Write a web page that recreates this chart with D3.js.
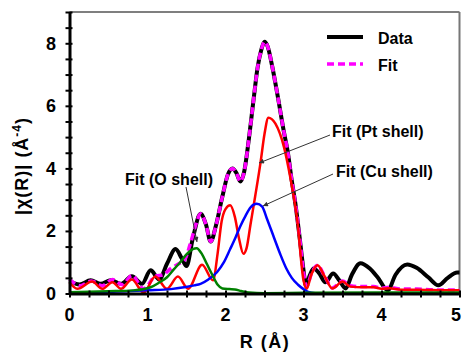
<!DOCTYPE html>
<html>
<head>
<meta charset="utf-8">
<script src="https://cdn.jsdelivr.net/npm/d3@7"></script>
<style>
  body { margin: 0; background: #fff; }
  svg { display: block; font-family: "Liberation Sans", Arial, sans-serif; font-weight: bold; }
</style>
</head>
<body>
<svg id="chart" width="462" height="352"></svg>
<script>
// |chi(R)| curves, [R, value] pairs
const dataCurve = [
    [0.00, 0.40], [0.13, 0.29], [0.27, 0.42], [0.40, 0.31], [0.53, 0.42], [0.66, 0.31],
    [0.80, 0.55], [0.93, 0.31], [1.04, 0.74], [1.15, 0.45], [1.25, 0.95], [1.36, 1.42],
    [1.44, 1.12], [1.50, 0.88], [1.58, 1.75], [1.68, 2.55], [1.75, 2.2], [1.81, 1.66],
    [1.88, 2.2], [1.96, 3.1], [2.03, 3.8], [2.09, 4.0], [2.14, 3.85], [2.19, 3.58],
    [2.24, 3.9], [2.30, 4.95], [2.36, 6.2], [2.41, 7.2], [2.46, 7.8], [2.50, 8.05],
    [2.54, 7.9], [2.60, 7.25], [2.67, 6.3], [2.75, 5.15], [2.80, 4.5], [2.85, 3.6],
    [2.90, 2.8], [2.95, 1.8], [3.00, 0.75], [3.03, 0.26], [3.08, 0.58], [3.13, 0.8],
    [3.20, 0.65], [3.28, 0.36], [3.38, 0.64], [3.46, 0.42], [3.54, 0.16], [3.62, 0.6],
    [3.73, 0.97], [3.85, 0.8], [3.95, 0.52], [4.08, 0.1], [4.18, 0.6], [4.33, 0.93],
    [4.45, 0.82], [4.60, 0.52], [4.73, 0.26], [4.85, 0.5], [4.97, 0.67], [5.00, 0.67]
];

const fitCurve = [
    [0.00, 0.45], [0.14, 0.25], [0.28, 0.40], [0.42, 0.25], [0.55, 0.45], [0.68, 0.28],
    [0.80, 0.58], [0.95, 0.15], [1.10, 0.55], [1.20, 0.6], [1.30, 0.8], [1.40, 0.95],
    [1.47, 1.05], [1.55, 1.6], [1.62, 2.2], [1.68, 2.55], [1.75, 2.2], [1.81, 1.66],
    [1.88, 2.2], [1.96, 3.1], [2.03, 3.8], [2.09, 4.0], [2.14, 3.85], [2.19, 3.58],
    [2.24, 3.9], [2.30, 4.95], [2.36, 6.2], [2.41, 7.2], [2.46, 7.8], [2.50, 8.05],
    [2.54, 7.9], [2.60, 7.25], [2.67, 6.3], [2.75, 5.15], [2.80, 4.5], [2.85, 3.6],
    [2.90, 2.8], [2.95, 1.8], [3.00, 0.7], [3.04, 0.22], [3.10, 0.62], [3.18, 0.9],
    [3.27, 0.56], [3.37, 0.18], [3.50, 0.4], [3.60, 0.25], [3.75, 0.22], [3.90, 0.22],
    [4.00, 0.17], [4.10, 0.2], [4.25, 0.14], [4.45, 0.14], [4.65, 0.12], [4.85, 0.11],
    [5.00, 0.11]
];

const ptShell = [
    [0.00, 0.35], [0.10, 0.15], [0.29, 0.38], [0.42, 0.15], [0.55, 0.36], [0.66, 0.15],
    [0.80, 0.45], [0.95, 0.03], [1.10, 0.54], [1.25, 0.15], [1.39, 0.54], [1.52, 0.15],
    [1.70, 0.92], [1.84, 0.42], [1.90, 1.3], [1.95, 2.3], [2.00, 2.7], [2.06, 2.82],
    [2.12, 2.45], [2.17, 1.8], [2.23, 1.27], [2.27, 1.45], [2.32, 2.2], [2.38, 3.1],
    [2.45, 4.2], [2.50, 5.1], [2.55, 5.62], [2.64, 5.43], [2.75, 4.68], [2.83, 3.72],
    [2.92, 2.34], [3.00, 0.42], [3.04, 0.15], [3.10, 0.6], [3.18, 0.9], [3.27, 0.55],
    [3.37, 0.16], [3.50, 0.38], [3.60, 0.22], [3.75, 0.2], [3.90, 0.2], [4.00, 0.15],
    [4.10, 0.17], [4.25, 0.12], [4.45, 0.12], [4.65, 0.11], [4.85, 0.1], [5.00, 0.1]
];

const cuShell = [
    [0.00, 0.03], [0.50, 0.05], [1.00, 0.1], [1.30, 0.14], [1.47, 0.2], [1.60, 0.26],
    [1.68, 0.31], [1.78, 0.45], [1.89, 0.68], [1.98, 1.0], [2.06, 1.42], [2.13, 1.8],
    [2.19, 2.15], [2.26, 2.5], [2.32, 2.75], [2.40, 2.87], [2.47, 2.78], [2.53, 2.4],
    [2.62, 1.8], [2.70, 1.27], [2.78, 0.8], [2.85, 0.5], [2.93, 0.28], [3.00, 0.14],
    [3.06, 0.05], [3.15, 0.01], [4.00, 0.0], [5.00, 0.0]
];

const oShell = [
    [0.00, 0.04], [0.50, 0.07], [0.82, 0.1], [1.04, 0.2], [1.15, 0.35], [1.25, 0.52],
    [1.34, 0.78], [1.42, 1.0], [1.50, 1.25], [1.58, 1.42], [1.63, 1.45], [1.70, 1.25],
    [1.76, 0.95], [1.83, 0.6], [1.90, 0.28], [1.96, 0.16], [2.05, 0.14], [2.12, 0.13],
    [2.20, 0.08], [2.30, 0.03], [2.50, 0.01], [3.00, 0.02], [4.00, 0.03], [5.00, 0.03]
];

const xTicks = [0, 1, 2, 3, 4, 5];
const yTicks = [0, 2, 4, 6, 8];

const svg = d3.select('#chart');
const x = d3.scaleLinear().domain([0, 5]).range([69.5, 459.5]);
const y = d3.scaleLinear().domain([0, 9]).range([293.5, 12]);

const line = d3.line()
    .x(d => x(d[0]))
    .y(d => y(d[1]))
    .curve(d3.curveMonotoneX);

// frame (top / right)
svg.append('line')
    .attr('x1', x(0)).attr('x2', x(5))
    .attr('y1', y(9)).attr('y2', y(9))
    .attr('stroke', '#555').attr('stroke-width', 1.5);
svg.append('line')
    .attr('x1', x(5)).attr('x2', x(5))
    .attr('y1', y(9)).attr('y2', y(0))
    .attr('stroke', '#777').attr('stroke-width', 2);

// curves
const plot = svg.append('g');
plot.append('path').datum(dataCurve)
    .attr('d', line).attr('fill', 'none')
    .attr('stroke', '#000').attr('stroke-width', 4).attr('stroke-linejoin', 'round');
plot.append('path').datum(fitCurve)
    .attr('d', line).attr('fill', 'none')
    .attr('stroke', '#ff00ff').attr('stroke-width', 3.5).attr('stroke-dasharray', '7,4');
plot.append('path').datum(ptShell)
    .attr('d', line).attr('fill', 'none')
    .attr('stroke', '#ff0000').attr('stroke-width', 2.5);
plot.append('path').datum(cuShell)
    .attr('d', line).attr('fill', 'none')
    .attr('stroke', '#0000ff').attr('stroke-width', 2.5);
plot.append('path').datum(oShell)
    .attr('d', line).attr('fill', 'none')
    .attr('stroke', '#008000').attr('stroke-width', 2.5);

// axes
const xAxis = d3.axisBottom(x)
    .tickValues(d3.range(0, 5.001, 0.25))
    .tickSize(0)
    .tickFormat('');
const gx = svg.append('g').attr('transform', `translate(0,${y(0)})`).call(xAxis);
gx.select('.domain').attr('stroke', '#000').attr('stroke-width', 3);
gx.selectAll('.tick line').attr('y1', -3).attr('y2', 4).attr('stroke', '#000').attr('stroke-width', 2);

const yAxis = d3.axisLeft(y)
    .tickValues(d3.range(0, 9.001, 0.5))
    .tickSize(0)
    .tickFormat('');
const gy = svg.append('g').attr('transform', `translate(${x(0)},0)`).call(yAxis);
gy.select('.domain').attr('stroke', '#000').attr('stroke-width', 3);
gy.selectAll('.tick line').attr('x1', -4).attr('x2', 3).attr('stroke', '#000').attr('stroke-width', 2);

// last x label sits against the right edge, nudge it in
svg.append('g').selectAll('text')
    .data(xTicks).enter().append('text')
    .attr('x', d => x(d) - (d === 5 ? 3.5 : 0)).attr('y', 321)
    .attr('text-anchor', 'middle').attr('font-size', 18)
    .text(d => d);

svg.append('g').selectAll('text')
    .data(yTicks).enter().append('text')
    .attr('x', 56).attr('y', d => y(d) + 6.5)
    .attr('text-anchor', 'end').attr('font-size', 18)
    .text(d => d);

// axis titles
svg.append('text')
    .attr('x', 265).attr('y', 348)
    .attr('text-anchor', 'middle').attr('font-size', 18)
    .attr('letter-spacing', 1.5)
    .text('R (Å)');

const yt = svg.append('text')
    .attr('transform', 'translate(28,166) rotate(-90)')
    .attr('text-anchor', 'middle').attr('font-size', 18)
    .attr('letter-spacing', 1);
yt.append('tspan').text('|χ(R)| (Å');
yt.append('tspan').attr('dy', -7).attr('font-size', 12).text('-4');
yt.append('tspan').attr('dy', 7).text(')');

// legend
const legend = [
    { label: 'Data', color: '#000', width: 4, dash: null, y: 37 },
    { label: 'Fit', color: '#ff00ff', width: 3.5, dash: '7,4', y: 64 }
];
const lg = svg.append('g').selectAll('g').data(legend).enter().append('g');
lg.append('line')
    .attr('x1', 327).attr('x2', 363)
    .attr('y1', d => d.y).attr('y2', d => d.y)
    .attr('stroke', d => d.color).attr('stroke-width', d => d.width)
    .attr('stroke-dasharray', d => d.dash);
lg.append('text')
    .attr('x', 378).attr('y', d => d.y + 7)
    .attr('font-size', 16)
    .text(d => d.label);

// annotations
svg.append('defs').append('marker')
    .attr('id', 'arrow')
    .attr('viewBox', '0 0 10 10')
    .attr('refX', 10).attr('refY', 5)
    .attr('markerWidth', 7).attr('markerHeight', 5)
    .attr('markerUnits', 'userSpaceOnUse')
    .attr('orient', 'auto')
    .append('path').attr('d', 'M0,0L10,5L0,10z').attr('fill', '#333');

const notes = [
    { text: 'Fit (Pt shell)', tx: 332, ty: 137, x1: 330, y1: 135, x2: 259, y2: 163 },
    { text: 'Fit (Cu shell)', tx: 336, ty: 177, x1: 333, y1: 174, x2: 263, y2: 206 },
    { text: 'Fit (O shell)', tx: 125, ty: 185, x1: 186, y1: 187, x2: 197, y2: 242 }
];
const ng = svg.append('g').selectAll('g').data(notes).enter().append('g');
ng.append('line')
    .attr('x1', d => d.x1).attr('y1', d => d.y1)
    .attr('x2', d => d.x2).attr('y2', d => d.y2)
    .attr('stroke', '#333').attr('stroke-width', 1)
    .attr('marker-end', 'url(#arrow)');
ng.append('text')
    .attr('x', d => d.tx).attr('y', d => d.ty)
    .attr('font-size', 16)
    .text(d => d.text);
</script>
</body>
</html>
